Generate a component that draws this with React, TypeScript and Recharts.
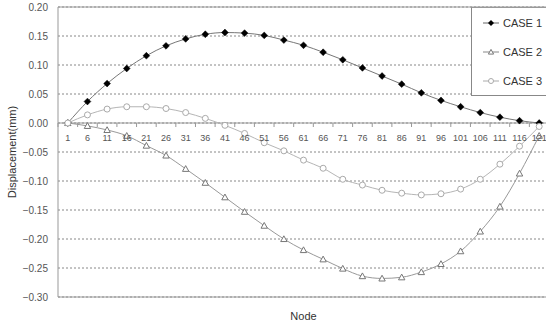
import React from 'react';
import { LineChart, Line, XAxis, YAxis, CartesianGrid, ReferenceLine } from 'recharts';

const NODES = ['1', '6', '11', '16', '21', '26', '31', '36', '41', '46', '51', '56', '61', '66', '71', '76', '81', '86', '91', '96', '101', '106', '111', '116', '121'];
const CASE_1 = [0, 0.037, 0.068, 0.094, 0.116, 0.133, 0.145, 0.153, 0.156, 0.155, 0.151, 0.143, 0.134, 0.122, 0.109, 0.095, 0.081, 0.067, 0.052, 0.039, 0.028, 0.018, 0.010, 0.004, 0];
const CASE_2 = [0, -0.005, -0.012, -0.022, -0.039, -0.056, -0.079, -0.103, -0.128, -0.153, -0.177, -0.2, -0.219, -0.235, -0.251, -0.264, -0.268, -0.266, -0.257, -0.243, -0.221, -0.187, -0.144, -0.087, -0.022];
const CASE_3 = [0, 0.014, 0.024, 0.028, 0.028, 0.025, 0.018, 0.008, -0.004, -0.018, -0.034, -0.048, -0.064, -0.078, -0.097, -0.107, -0.116, -0.121, -0.124, -0.122, -0.114, -0.097, -0.071, -0.04, -0.006];
const Y_TICKS = [0.2, 0.15, 0.1, 0.05, 0, -0.05, -0.1, -0.15, -0.2, -0.25, -0.3];

const data = NODES.map((node, i) => ({ node, c1: CASE_1[i], c2: CASE_2[i], c3: CASE_3[i] }));

// plot geometry (chart is a bit wider than the window, right edge is cropped like the source)
const CHART_W = 560;
const CHART_H = 323;
const M = { top: 7, right: 11, bottom: 0, left: 0 };
const Y_W = 58;
const X_H = 26;
const PLOT_W = CHART_W - M.left - M.right - Y_W;
const PLOT_H = CHART_H - M.top - M.bottom - X_H;
const BAND = PLOT_W / NODES.length;
const ZERO_Y = M.top + PLOT_H * (0.2 / 0.5);

const FONT = '"Liberation Sans", Arial, sans-serif';

const diamond = (cx: number, cy: number, r: number) =>
    `M${cx},${cy - r}L${cx + r},${cy}L${cx},${cy + r}L${cx - r},${cy}Z`;
const triangle = (cx: number, cy: number, r: number) =>
    `M${cx},${cy - r}L${cx + r},${cy + r * 0.8}L${cx - r},${cy + r * 0.8}Z`;

const DiamondDot = (p: any) => (
    <path key={p.key} d={diamond(p.cx, p.cy, 3.4)} fill="#000" stroke="#000" strokeWidth={0.5} />
);
const TriangleDot = (p: any) => (
    <path key={p.key} d={triangle(p.cx, p.cy, 3.2)} fill="#fff" stroke="#777" strokeWidth={1} />
);
const CircleDot = (p: any) => (
    <circle key={p.key} cx={p.cx} cy={p.cy} r={3} fill="#fff" stroke="#aaa" strokeWidth={1} />
);

// category labels sit on the zero line, like the Excel original
const NodeTick = (props: any) => {
    const { x, payload } = props;
    const left = x - BAND / 2;
    return (
        <g>
            <line x1={left} x2={left} y1={ZERO_Y} y2={ZERO_Y + 4} stroke="#999" />
            <text x={x} y={ZERO_Y + 18} textAnchor="middle" fontSize={9} fill="#555" fontFamily={FONT}>
                {payload.value}
            </text>
        </g>
    );
};

const legendItems = [
    { name: 'CASE 1', line: '#666', icon: (cx: number, cy: number) => <path d={diamond(cx, cy, 3)} fill="#000" /> },
    { name: 'CASE 2', line: '#888', icon: (cx: number, cy: number) => <path d={triangle(cx, cy, 2.6)} fill="#fff" stroke="#777" /> },
    { name: 'CASE 3', line: '#aaa', icon: (cx: number, cy: number) => <circle cx={cx} cy={cy} r={2.5} fill="#fff" stroke="#aaa" /> },
];

const LegendBox = () => (
    <div style={{
        position: 'absolute',
        left: 471,
        top: 7,
        width: 90,
        height: 89,
        background: '#fff',
        borderLeft: '1px solid #888',
        borderBottom: '1px solid #888',
        borderTop: '1px solid #999',
        boxSizing: 'border-box',
        fontFamily: FONT,
    }}>
        {legendItems.map((item, i) => (
            <div key={item.name} style={{ position: 'absolute', left: 0, top: 7 + i * 29, height: 16, display: 'flex', alignItems: 'center' }}>
                <svg width={30} height={16}>
                    <line x1={11} x2={27} y1={8} y2={8} stroke={item.line} />
                    {item.icon(19, 8)}
                </svg>
                <span style={{ fontSize: 11, color: '#333', marginLeft: 1 }}>{item.name}</span>
            </div>
        ))}
    </div>
);

export default function App() {
    return (
        <div style={{ position: 'absolute', left: 0, top: 0, width: 546, height: 323, overflow: 'hidden', background: '#fff' }}>
            <LineChart width={CHART_W} height={CHART_H} data={data} margin={M}>
                <CartesianGrid horizontal vertical={false} stroke="#888" strokeDasharray="2 2" />
                <XAxis
                    dataKey="node"
                    scale="band"
                    interval={0}
                    height={X_H}
                    axisLine={false}
                    tickLine={false}
                    tick={<NodeTick />}
                    label={{ value: 'Node', position: 'insideBottom', offset: 3, fontSize: 11, fill: '#333', fontFamily: FONT }}
                />
                <YAxis
                    width={Y_W}
                    domain={[-0.3, 0.2]}
                    ticks={Y_TICKS}
                    interval={0}
                    tickSize={0}
                    tickMargin={10}
                    tickLine={false}
                    axisLine={{ stroke: '#999' }}
                    tick={{ fontSize: 10, fill: '#555', fontFamily: FONT }}
                    tickFormatter={(v: number) => (v < 0 ? '\u2212' + Math.abs(v).toFixed(2) : v.toFixed(2))}
                    label={{ value: 'Displacement(mm)', angle: -90, position: 'insideLeft', offset: 12, fontSize: 11, fill: '#333', fontFamily: FONT, style: { textAnchor: 'middle' } }}
                />
                <ReferenceLine y={0.2} stroke="#999" />
                <ReferenceLine y={-0.3} stroke="#999" />
                <ReferenceLine y={0} stroke="#999" />
                <Line type="monotone" dataKey="c1" name="CASE 1" stroke="#777" strokeWidth={1} dot={DiamondDot} isAnimationActive={false} />
                <Line type="monotone" dataKey="c2" name="CASE 2" stroke="#999" strokeWidth={1} dot={TriangleDot} isAnimationActive={false} />
                <Line type="monotone" dataKey="c3" name="CASE 3" stroke="#b5b5b5" strokeWidth={1} dot={CircleDot} isAnimationActive={false} />
            </LineChart>
            <LegendBox />
        </div>
    );
}
